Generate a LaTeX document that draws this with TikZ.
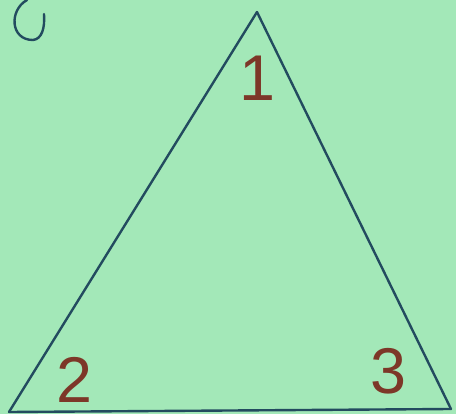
\documentclass[tikz,border=0pt]{standalone}
\usepackage{fontspec}
\setmainfont{Liberation Sans}
\definecolor{paper}{RGB}{163, 232, 184}
\definecolor{penblue}{RGB}{35, 75, 95}
\definecolor{penbrown}{RGB}{125, 55, 40}

\begin{document}
\begin{tikzpicture}[
  x=0.025cm, y=-0.025cm,
  edge/.style={penblue, line width=1.7pt, line join=round, line cap=round},
  num/.style={penbrown, font=\fontsize{46}{46}\selectfont, inner sep=0pt}
]
  % paper
  \fill[paper] (0,0) rectangle (456,414);
  \useasboundingbox (0,0) rectangle (456,414);

  % corners of the triangle
  \coordinate (top) at (257,12);
  \coordinate (left) at (9,412);
  \coordinate (right) at (451,409);

  \draw[edge] (top) -- (left);
  \draw[edge] (top) -- (right);
  \draw[edge] (left) -- (right);

  % corner numbers
  \node[num] (n1) at (257,78) {1};
  \node[num] (n2) at (74,380) {2};
  \node[num] (n3) at (388,371) {3};

  % stray pen mark, top left
  \draw[edge] (27,0) .. controls (9,10) and (10,40) .. (33,40)
              .. controls (42,39) and (45,28) .. (44,14);
\end{tikzpicture}
\end{document}
